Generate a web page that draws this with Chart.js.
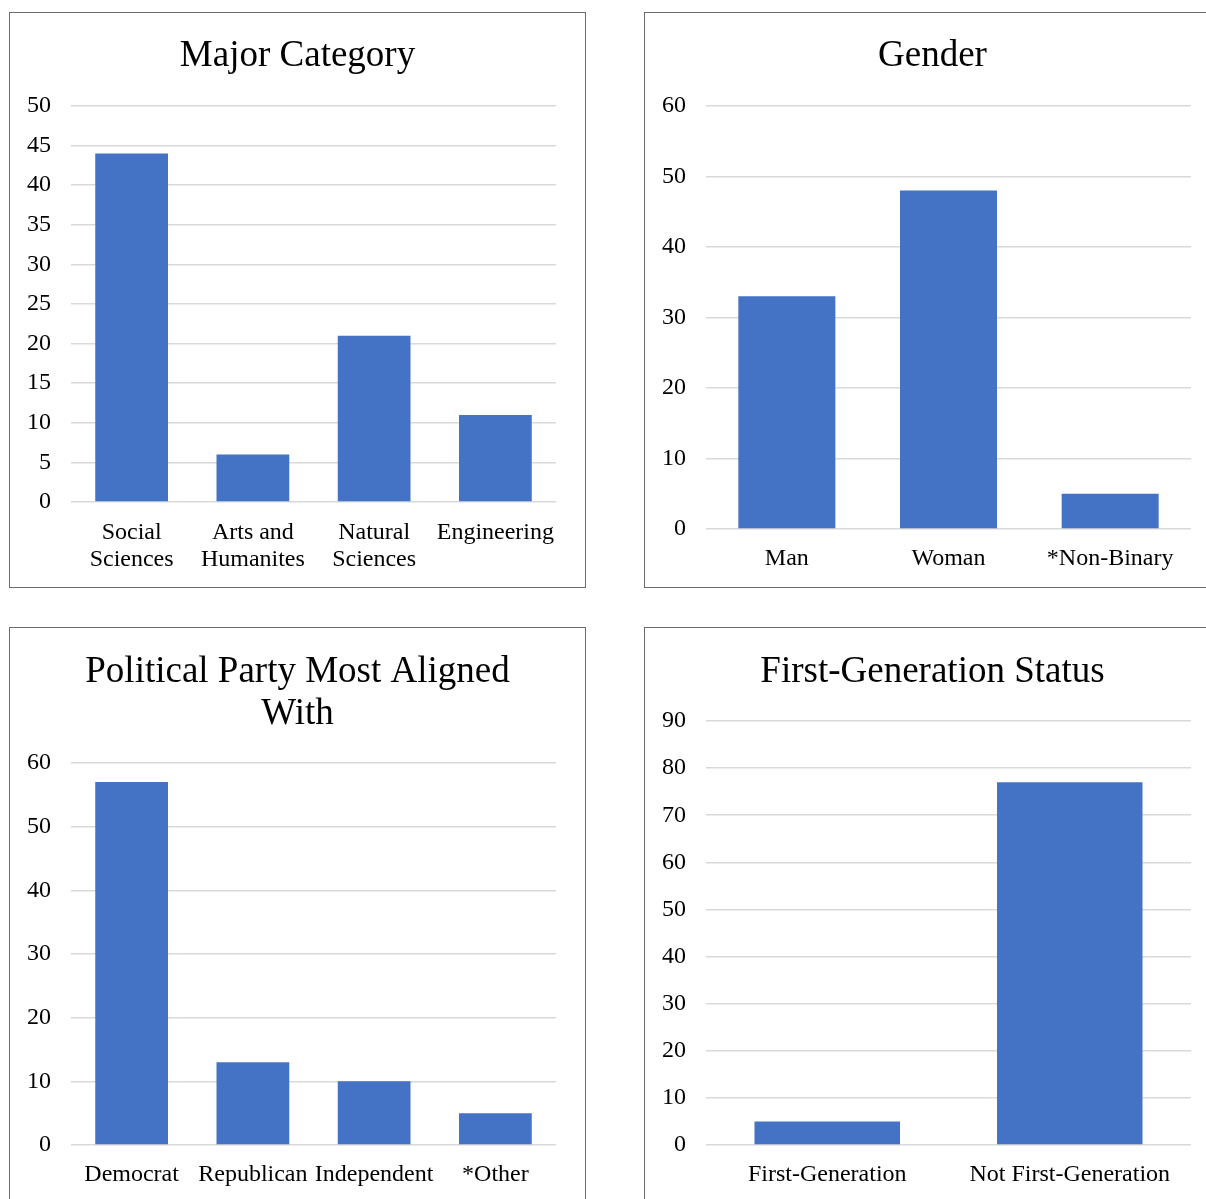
<!DOCTYPE html>
<html>
<head>
<meta charset="utf-8">
<script src="https://cdn.jsdelivr.net/npm/chart.js@4/dist/chart.umd.min.js"></script>
<style>
  html, body { margin: 0; padding: 0; background: #fff; overflow: hidden; }
  body { width: 1206px; height: 1199px; position: relative; }
  .panel { position: absolute; width: 575px; height: 574px; border: 1px solid #6b6b6b; background: #fff; }
</style>
</head>
<body>
<div class="panel" style="left:9px; top:12px;"><canvas id="c1"></canvas></div>
<div class="panel" style="left:644px; top:12px;"><canvas id="c2"></canvas></div>
<div class="panel" style="left:9px; top:627px;"><canvas id="c3"></canvas></div>
<div class="panel" style="left:644px; top:627px;"><canvas id="c4"></canvas></div>
<script>
// data
const majorLabels = [["Social", "Sciences"], ["Arts and", "Humanites"], ["Natural", "Sciences"], "Engineering"];
const majorValues = [44, 6, 21, 11];

const genderLabels = ["Man", "Woman", "*Non-Binary"];
const genderValues = [33, 48, 5];

const partyLabels = ["Democrat", "Republican", "Independent", "*Other"];
const partyValues = [57, 13, 10, 5];

const firstGenLabels = ["First-Generation", "Not First-Generation"];
const firstGenValues = [5, 77];

const FONT = "'Liberation Serif', 'Times New Roman', serif";
const BAR = "#4472C4";

function makeChart(id, title, labels, values, yMax, yStep, titlePad, xHeight, xPad) {
  const ctx = document.getElementById(id).getContext("2d");
  return new Chart(ctx, {
    type: "bar",
    data: {
      labels,
      datasets: [{
        data: values,
        backgroundColor: BAR,
        borderWidth: 0,
        barPercentage: 0.6,
        categoryPercentage: 1.0
      }]
    },
    options: {
      responsive: true,
      maintainAspectRatio: false,
      animation: false,
      layout: { padding: 0 },
      plugins: {
        legend: { display: false },
        tooltip: { enabled: false },
        title: {
          display: true,
          text: title,
          color: "#000",
          font: { family: FONT, size: 37, weight: "normal", lineHeight: 1.135 },
          padding: titlePad
        }
      },
      scales: {
        x: {
          grid: { display: false, drawTicks: false },
          border: { display: false },
          ticks: {
            color: "#000",
            font: { family: FONT, size: 24, lineHeight: 1.1 },
            padding: xPad,
            maxRotation: 0,
            minRotation: 0,
            autoSkip: false
          },
          afterFit: s => { s.height = xHeight; }
        },
        y: {
          min: 0,
          max: yMax,
          grid: { color: "#d9d9d9", lineWidth: 1.5, drawTicks: false },
          border: { display: false },
          ticks: {
            stepSize: yStep,
            color: "#000",
            font: { family: FONT, size: 24 },
            padding: 20
          },
          afterFit: s => { s.width = 61; }
        },
        // empty right-hand axis, only reserves the right margin so the title stays centred
        yRight: {
          type: "linear",
          position: "right",
          min: 0,
          max: yMax,
          grid: { display: false, drawTicks: false },
          border: { display: false },
          ticks: { display: false },
          afterFit: s => { s.width = 29; }
        }
      }
    }
  });
}

makeChart("c1", "Major Category", majorLabels, majorValues, 50, 5, { top: 22, bottom: 29 }, 85, 18);
makeChart("c2", "Gender", genderLabels, genderValues, 60, 10, { top: 22, bottom: 29 }, 58, 17);
makeChart("c3", ["Political Party Most Aligned", "With"], partyLabels, partyValues, 60, 10, { top: 23, bottom: 28 }, 57, 17);
makeChart("c4", "First-Generation Status", firstGenLabels, firstGenValues, 90, 10, { top: 23, bottom: 28 }, 57, 17);
</script>
</body>
</html>
